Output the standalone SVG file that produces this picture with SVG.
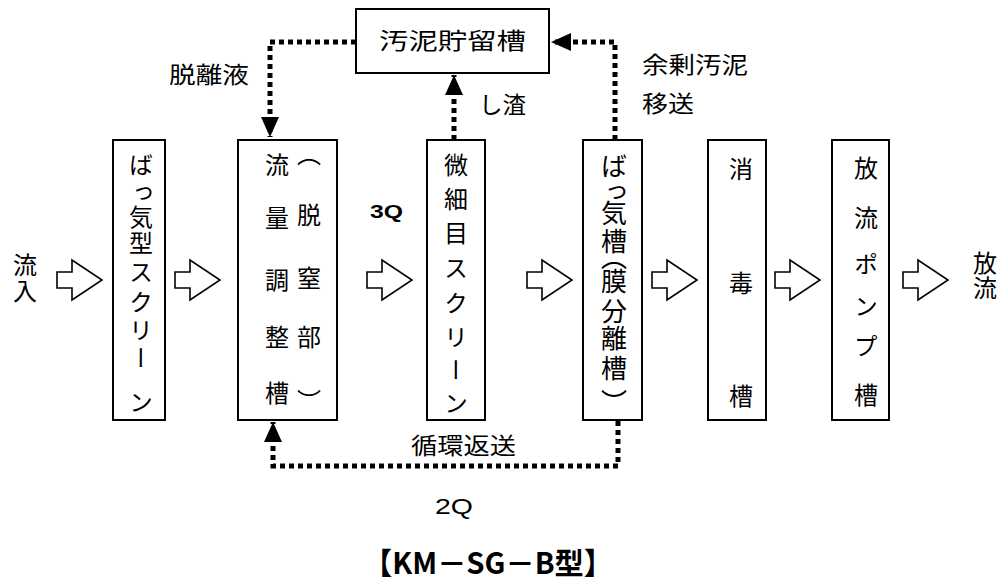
<svg xmlns="http://www.w3.org/2000/svg" width="1004" height="582" viewBox="0 0 1004 582">
<defs>
<style>
.box{fill:#fff;stroke:#000;stroke-width:2}
.t{font-family:"Noto Sans CJK JP","Noto Sans",sans-serif;font-size:23px;fill:#000}
.v{font-family:"Noto Sans CJK JP","Noto Sans",sans-serif;font-size:24px;fill:#000;writing-mode:vertical-rl}
.lat{font-family:"Liberation Sans",Arial,sans-serif;fill:#000}
.dot{fill:none;stroke:#000;stroke-width:5;stroke-dasharray:5 4}
.blk{fill:#fff;stroke:#000;stroke-width:1.6;stroke-linejoin:miter}
</style>
<marker id="ah" viewBox="0 0 20 18" refX="20" refY="9" markerWidth="20" markerHeight="18" markerUnits="userSpaceOnUse" orient="auto">
<path d="M0,0 L20,9 L0,18 Z" fill="#000"/>
</marker>
<path id="barrow" d="M0,272 H15 V260 L45,280 L15,300 V288 H0 Z"/>
</defs>
<rect width="1004" height="582" fill="#fff"/>

<g id="connectors">
<path class="dot" d="M356,42 H270 V137" marker-end="url(#ah)"/>
<path class="dot" d="M454,140 V75" marker-end="url(#ah)"/>
<path class="dot" d="M615,140 V42 H551" marker-end="url(#ah)"/>
<path class="dot" d="M618,412 V466 H273 V422" marker-end="url(#ah)"/>
<use href="#barrow" class="blk" x="57"/>
<use href="#barrow" class="blk" x="175"/>
<use href="#barrow" class="blk" x="367"/>
<use href="#barrow" class="blk" x="527"/>
<use href="#barrow" class="blk" x="652"/>
<use href="#barrow" class="blk" x="775"/>
<use href="#barrow" class="blk" x="903"/>
<text class="t" x="169" y="83" textLength="80" lengthAdjust="spacingAndGlyphs">脱離液</text>
<text class="t" x="479" y="113" textLength="47" lengthAdjust="spacingAndGlyphs">し渣</text>
<text class="t" x="642" y="73" textLength="106" lengthAdjust="spacingAndGlyphs">余剰汚泥</text>
<text class="t" x="642" y="112" textLength="52" lengthAdjust="spacingAndGlyphs">移送</text>
<text class="t" x="411" y="454" textLength="105" lengthAdjust="spacingAndGlyphs">循環返送</text>
<text class="lat" x="370" y="218" font-size="18" font-weight="bold" textLength="33" lengthAdjust="spacingAndGlyphs">3Q</text>
<text class="lat" x="435" y="514" font-size="22" textLength="38" lengthAdjust="spacingAndGlyphs">2Q</text>
</g>

<g id="inflow">
<text class="v" x="25" y="253 279">流入</text>
</g>
<g id="outflow">
<text class="v" x="985" y="251 276">放流</text>
</g>

<g id="sludge-tank">
<rect class="box" x="356" y="9" width="193" height="64"/>
<text class="t" x="379" y="49" textLength="147" lengthAdjust="spacingAndGlyphs">汚泥貯留槽</text>
</g>

<g id="aeration-screen">
<rect class="box" x="113" y="140" width="52" height="280"/>
<text class="v" x="141" y="153 181 205 231 260 290 318 346 390">ばっ気型スクリーン</text>
</g>

<g id="flow-equalization">
<rect class="box" x="238" y="140" width="99" height="280"/>
<text class="v" x="277" y="153 206 268 325 381">流量調整槽</text>
<text class="v" x="309" y="142 203 266 325 389">（脱窒部）</text>
</g>

<g id="fine-screen">
<rect class="box" x="427" y="140" width="58" height="280"/>
<text class="v" x="456" y="153 187 221 256 291 325 358 391">微細目スクリーン</text>
</g>

<g id="aeration-tank">
<rect class="box" x="583" y="140" width="59" height="280"/>
<text class="v" x="614" y="153 179 200 228" style="font-size:26px">ばっ気槽</text>
<text class="v" x="614" y="244 268 298 325 355 389" style="font-size:26px">（膜分離槽）</text>
</g>

<g id="disinfection-tank">
<rect class="box" x="708" y="140" width="58" height="280"/>
<text class="v" x="741" y="157 271 384">消毒槽</text>
</g>

<g id="discharge-pump-tank">
<rect class="box" x="832" y="140" width="57" height="280"/>
<text class="v" x="866" y="156 206 252 294 334 383">放流ポンプ槽</text>
</g>

<g id="title">
<text x="363" y="574" font-family="Noto Sans CJK JP,sans-serif" font-size="30" font-weight="bold" textLength="250" lengthAdjust="spacingAndGlyphs">【KM－SG－B型】</text>
</g>
</svg>
